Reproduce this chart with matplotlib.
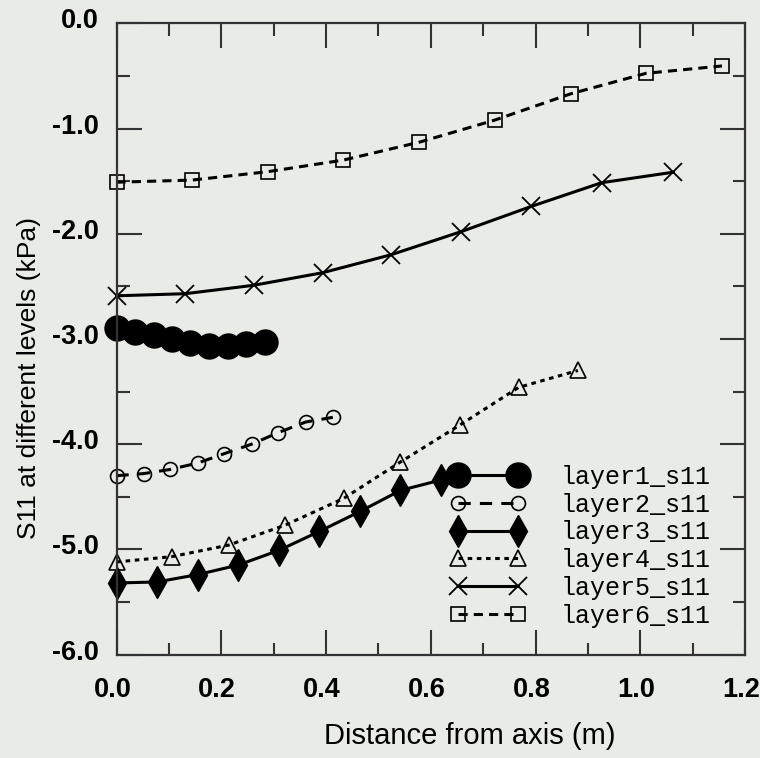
import matplotlib.pyplot as plt
import matplotlib.transforms as mtransforms
from matplotlib.ticker import MultipleLocator

# values
x1 = [0.0, 0.035, 0.071, 0.106, 0.141, 0.177, 0.212, 0.247, 0.283]
y1 = [-2.90, -2.93, -2.96, -3.00, -3.04, -3.07, -3.07, -3.05, -3.03]

x2 = [0.0, 0.052, 0.103, 0.155, 0.206, 0.258, 0.309, 0.361, 0.413]
y2 = [-4.30, -4.28, -4.24, -4.18, -4.09, -4.00, -3.89, -3.79, -3.745]

x3 = [0.0, 0.0775, 0.155, 0.232, 0.31, 0.387, 0.465, 0.542, 0.62]
y3 = [-5.32, -5.31, -5.24, -5.15, -5.01, -4.83, -4.64, -4.44, -4.34]

x4 = [0.0, 0.105, 0.214, 0.322, 0.434, 0.542, 0.655, 0.768, 0.881]
y4 = [-5.12, -5.07, -4.96, -4.77, -4.515, -4.17, -3.82, -3.46, -3.30]

x5 = [0.0, 0.131, 0.262, 0.394, 0.524, 0.658, 0.792, 0.926, 1.063]
y5 = [-2.59, -2.57, -2.49, -2.37, -2.20, -1.98, -1.74, -1.515, -1.415]

x6 = [0.0, 0.144, 0.289, 0.433, 0.578, 0.722, 0.867, 1.011, 1.156]
y6 = [-1.51, -1.49, -1.41, -1.30, -1.13, -0.92, -0.67, -0.475, -0.405]

labels = ['layer1_s11', 'layer2_s11', 'layer3_s11', 'layer4_s11', 'layer5_s11', 'layer6_s11']
xticks = [0.0, 0.2, 0.4, 0.6, 0.8, 1.0, 1.2]
yticks = [0.0, -1.0, -2.0, -3.0, -4.0, -5.0, -6.0]

bg = '#e9ebe7'
plt.rcParams['font.family'] = ['Liberation Sans', 'DejaVu Sans']

fig = plt.figure(figsize=(7.6, 7.58), dpi=100, facecolor=bg)
ax = fig.add_axes([0.1533, 0.1365, 0.827, 0.8327], facecolor=bg)

k = dict(color='black', lw=2.2, clip_on=False)
ax.plot(x1, y1, ls='-', marker='o', ms=18, mfc='black', mec='black', label=labels[0], **k)
ax.plot(x2, y2, ls=(0, (4, 3)), marker='o', ms=10, mfc='none', mec='black', mew=1.2, label=labels[1], **k)
ax.plot(x3, y3, ls='-', marker='d', ms=16, mfc='black', mec='black', label=labels[2], **k)
ax.plot(x4, y4, ls=(0, (1.5, 1.5)), marker='^', ms=11, mfc='none', mec='black', mew=1.2, label=labels[3], **k)
ax.plot(x5, y5, ls='-', marker='x', ms=13, mew=1.3, label=labels[4], **k)
ax.plot(x6, y6, ls=(0, (3, 2)), marker='s', ms=10, mfc='none', mec='black', mew=1.2, label=labels[5], **k)

ax.set_xlim(0, 1.2)
ax.set_ylim(-6, 0)
ax.set_xticks(xticks)
ax.set_xticklabels(['%.1f' % v for v in xticks])
ax.set_yticks(yticks)
ax.set_yticklabels(['%.1f' % v for v in yticks])
ax.xaxis.set_minor_locator(MultipleLocator(0.1))
ax.yaxis.set_minor_locator(MultipleLocator(0.5))

ax.tick_params(which='both', direction='in', top=True, right=True, colors='#333333', width=1.5)
ax.tick_params(which='major', length=18)
ax.tick_params(which='minor', length=9)
ax.tick_params(axis='x', which='major', pad=16, labelsize=19.5, labelcolor='black')
ax.tick_params(axis='y', which='major', pad=13, labelsize=19.5, labelcolor='black')
for s in ax.spines.values():
    s.set_linewidth(1.6)
    s.set_color('#333333')

# labels in the reference sit a little left / above their ticks
dx = mtransforms.ScaledTranslation(-4 / 100, 0, fig.dpi_scale_trans)
dy = mtransforms.ScaledTranslation(0, 5 / 100, fig.dpi_scale_trans)
for t in ax.get_xticklabels():
    t.set_fontweight('bold')
    t.set_transform(t.get_transform() + dx)
for t in ax.get_yticklabels():
    t.set_fontweight('bold')
    t.set_transform(t.get_transform() + dy)

ax.set_xlabel('Distance from axis (m)', fontsize=21)
ax.set_ylabel('S11 at different levels (kPa)', fontsize=19)
ax.xaxis.set_label_coords(0.5625, -0.107)
ax.yaxis.set_label_coords(-0.12, 0.438)

leg = ax.legend(loc='lower right', bbox_to_anchor=(0.973, 0.015), frameon=False,
                prop={'family': 'Liberation Mono', 'size': 18}, handlelength=3.0,
                handletextpad=1.4, labelspacing=0.15, borderaxespad=0.3, numpoints=2)

fig.savefig('out.png', dpi=100, facecolor=bg)
